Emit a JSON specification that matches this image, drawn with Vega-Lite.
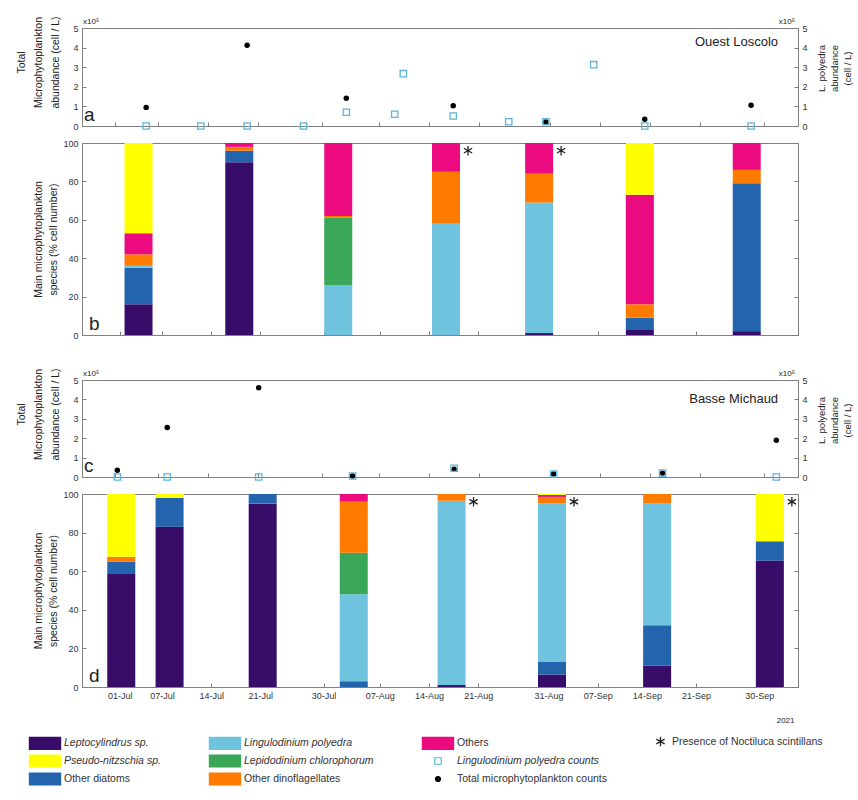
{
  "$schema": "https://vega.github.io/schema/vega-lite/v6.json",
  "padding": {"left": 16, "top": 15, "right": 2, "bottom": 2},
  "config": {
    "font": "Liberation Sans",
    "view": {"stroke": "#808080", "strokeWidth": 1},
    "axis": {"labelFont": "Liberation Sans", "titleFont": "Liberation Sans", "labelFontSize": 9, "titleFontSize": 10.5, "titleFontWeight": "normal", "labelColor": "#333333", "titleColor": "#222222", "domainColor": "#808080", "tickColor": "#808080", "grid": false, "tickSize": -4, "labelPadding": 8},
    "legend": {"labelFont": "Liberation Sans", "labelFontSize": 10.5, "labelColor": "#333333"},
    "text": {"font": "Liberation Sans", "color": "#222222"}
  },
  "datasets": {
    "cats": [
      {"cat": "Leptocylindrus sp.", "rank": 1},
      {"cat": "Other diatoms", "rank": 2},
      {"cat": "Lingulodinium polyedra", "rank": 3},
      {"cat": "Lepidodinium chlorophorum", "rank": 4},
      {"cat": "Other dinoflagellates", "rank": 5},
      {"cat": "Others", "rank": 6},
      {"cat": "Pseudo-nitzschia sp.", "rank": 7}
    ],
    "totA": [
      {"date": "2021-07-05T08:00", "cat": "Total microphytoplankton counts", "value": 0.95},
      {"date": "2021-07-19T12:00", "cat": "Total microphytoplankton counts", "value": 4.12},
      {"date": "2021-08-02T10:00", "cat": "Total microphytoplankton counts", "value": 1.42},
      {"date": "2021-08-17T10:00", "cat": "Total microphytoplankton counts", "value": 1.03},
      {"date": "2021-08-30T10:00", "cat": "Total microphytoplankton counts", "value": 0.2},
      {"date": "2021-09-13T07:00", "cat": "Total microphytoplankton counts", "value": 0.34},
      {"date": "2021-09-28T05:00", "cat": "Total microphytoplankton counts", "value": 1.06}
    ],
    "lpA": [
      {"date": "2021-07-05T08:00", "cat": "Lingulodinium polyedra counts", "value": 0},
      {"date": "2021-07-13T00:00", "cat": "Lingulodinium polyedra counts", "value": 0},
      {"date": "2021-07-19T12:00", "cat": "Lingulodinium polyedra counts", "value": 0},
      {"date": "2021-07-27T10:00", "cat": "Lingulodinium polyedra counts", "value": 0},
      {"date": "2021-08-02T10:00", "cat": "Lingulodinium polyedra counts", "value": 0.7},
      {"date": "2021-08-09T05:00", "cat": "Lingulodinium polyedra counts", "value": 0.6},
      {"date": "2021-08-10T10:00", "cat": "Lingulodinium polyedra counts", "value": 2.67},
      {"date": "2021-08-17T10:00", "cat": "Lingulodinium polyedra counts", "value": 0.51},
      {"date": "2021-08-25T05:00", "cat": "Lingulodinium polyedra counts", "value": 0.22},
      {"date": "2021-08-30T10:00", "cat": "Lingulodinium polyedra counts", "value": 0.22},
      {"date": "2021-09-06T03:00", "cat": "Lingulodinium polyedra counts", "value": 3.13},
      {"date": "2021-09-13T07:00", "cat": "Lingulodinium polyedra counts", "value": 0},
      {"date": "2021-09-28T05:00", "cat": "Lingulodinium polyedra counts", "value": 0}
    ],
    "totC": [
      {"date": "2021-07-01T07:00", "cat": "Total microphytoplankton counts", "value": 0.35},
      {"date": "2021-07-08T07:00", "cat": "Total microphytoplankton counts", "value": 2.55},
      {"date": "2021-07-21T03:00", "cat": "Total microphytoplankton counts", "value": 4.6},
      {"date": "2021-08-03T07:00", "cat": "Total microphytoplankton counts", "value": 0.05},
      {"date": "2021-08-17T13:00", "cat": "Total microphytoplankton counts", "value": 0.4},
      {"date": "2021-08-31T12:00", "cat": "Total microphytoplankton counts", "value": 0.15},
      {"date": "2021-09-15T19:00", "cat": "Total microphytoplankton counts", "value": 0.2},
      {"date": "2021-10-01T18:00", "cat": "Total microphytoplankton counts", "value": 1.9}
    ],
    "lpC": [
      {"date": "2021-07-01T07:00", "cat": "Lingulodinium polyedra counts", "value": 0},
      {"date": "2021-07-08T07:00", "cat": "Lingulodinium polyedra counts", "value": 0},
      {"date": "2021-07-21T03:00", "cat": "Lingulodinium polyedra counts", "value": 0},
      {"date": "2021-08-03T07:00", "cat": "Lingulodinium polyedra counts", "value": 0.05},
      {"date": "2021-08-17T13:00", "cat": "Lingulodinium polyedra counts", "value": 0.45},
      {"date": "2021-08-31T12:00", "cat": "Lingulodinium polyedra counts", "value": 0.15},
      {"date": "2021-09-15T19:00", "cat": "Lingulodinium polyedra counts", "value": 0.2},
      {"date": "2021-10-01T18:00", "cat": "Lingulodinium polyedra counts", "value": 0}
    ],
    "barsB": [
      {"date": "2021-07-03T16:00", "cat": "Leptocylindrus sp.", "pct": 16},
      {"date": "2021-07-03T16:00", "cat": "Other diatoms", "pct": 19},
      {"date": "2021-07-03T16:00", "cat": "Lingulodinium polyedra", "pct": 1},
      {"date": "2021-07-03T16:00", "cat": "Other dinoflagellates", "pct": 6},
      {"date": "2021-07-03T16:00", "cat": "Others", "pct": 11},
      {"date": "2021-07-03T16:00", "cat": "Pseudo-nitzschia sp.", "pct": 47},
      {"date": "2021-07-18T00:00", "cat": "Leptocylindrus sp.", "pct": 90},
      {"date": "2021-07-18T00:00", "cat": "Other diatoms", "pct": 6},
      {"date": "2021-07-18T00:00", "cat": "Other dinoflagellates", "pct": 2},
      {"date": "2021-07-18T00:00", "cat": "Others", "pct": 2},
      {"date": "2021-08-01T02:00", "cat": "Lingulodinium polyedra", "pct": 26},
      {"date": "2021-08-01T02:00", "cat": "Lepidodinium chlorophorum", "pct": 35},
      {"date": "2021-08-01T02:00", "cat": "Other dinoflagellates", "pct": 1},
      {"date": "2021-08-01T02:00", "cat": "Others", "pct": 38},
      {"date": "2021-08-16T10:00", "cat": "Lingulodinium polyedra", "pct": 58},
      {"date": "2021-08-16T10:00", "cat": "Other dinoflagellates", "pct": 27},
      {"date": "2021-08-16T10:00", "cat": "Others", "pct": 15},
      {"date": "2021-08-29T16:00", "cat": "Leptocylindrus sp.", "pct": 1},
      {"date": "2021-08-29T16:00", "cat": "Lingulodinium polyedra", "pct": 68},
      {"date": "2021-08-29T16:00", "cat": "Other dinoflagellates", "pct": 15},
      {"date": "2021-08-29T16:00", "cat": "Others", "pct": 16},
      {"date": "2021-09-13T00:00", "cat": "Leptocylindrus sp.", "pct": 3},
      {"date": "2021-09-13T00:00", "cat": "Other diatoms", "pct": 6},
      {"date": "2021-09-13T00:00", "cat": "Other dinoflagellates", "pct": 7},
      {"date": "2021-09-13T00:00", "cat": "Others", "pct": 57},
      {"date": "2021-09-13T00:00", "cat": "Pseudo-nitzschia sp.", "pct": 27},
      {"date": "2021-09-28T05:00", "cat": "Leptocylindrus sp.", "pct": 2},
      {"date": "2021-09-28T05:00", "cat": "Other diatoms", "pct": 77},
      {"date": "2021-09-28T05:00", "cat": "Other dinoflagellates", "pct": 7},
      {"date": "2021-09-28T05:00", "cat": "Others", "pct": 14}
    ],
    "barsD": [
      {"date": "2021-07-01T05:00", "cat": "Leptocylindrus sp.", "pct": 58.5},
      {"date": "2021-07-01T05:00", "cat": "Other diatoms", "pct": 6.5},
      {"date": "2021-07-01T05:00", "cat": "Other dinoflagellates", "pct": 2.5},
      {"date": "2021-07-01T05:00", "cat": "Pseudo-nitzschia sp.", "pct": 32.5},
      {"date": "2021-07-08T02:00", "cat": "Leptocylindrus sp.", "pct": 83},
      {"date": "2021-07-08T02:00", "cat": "Other diatoms", "pct": 15},
      {"date": "2021-07-08T02:00", "cat": "Pseudo-nitzschia sp.", "pct": 2},
      {"date": "2021-07-21T08:00", "cat": "Leptocylindrus sp.", "pct": 95},
      {"date": "2021-07-21T08:00", "cat": "Other diatoms", "pct": 5},
      {"date": "2021-08-03T07:00", "cat": "Other diatoms", "pct": 3},
      {"date": "2021-08-03T07:00", "cat": "Lingulodinium polyedra", "pct": 45},
      {"date": "2021-08-03T07:00", "cat": "Lepidodinium chlorophorum", "pct": 21.5},
      {"date": "2021-08-03T07:00", "cat": "Other dinoflagellates", "pct": 26.5},
      {"date": "2021-08-03T07:00", "cat": "Others", "pct": 4},
      {"date": "2021-08-17T05:00", "cat": "Leptocylindrus sp.", "pct": 1},
      {"date": "2021-08-17T05:00", "cat": "Lingulodinium polyedra", "pct": 95.5},
      {"date": "2021-08-17T05:00", "cat": "Other dinoflagellates", "pct": 3.5},
      {"date": "2021-08-31T12:00", "cat": "Leptocylindrus sp.", "pct": 6.5},
      {"date": "2021-08-31T12:00", "cat": "Other diatoms", "pct": 6.5},
      {"date": "2021-08-31T12:00", "cat": "Lingulodinium polyedra", "pct": 82},
      {"date": "2021-08-31T12:00", "cat": "Other dinoflagellates", "pct": 3.5},
      {"date": "2021-08-31T12:00", "cat": "Others", "pct": 1},
      {"date": "2021-08-31T12:00", "cat": "Pseudo-nitzschia sp.", "pct": 0.5},
      {"date": "2021-09-15T11:00", "cat": "Leptocylindrus sp.", "pct": 11},
      {"date": "2021-09-15T11:00", "cat": "Other diatoms", "pct": 21},
      {"date": "2021-09-15T11:00", "cat": "Lingulodinium polyedra", "pct": 63},
      {"date": "2021-09-15T11:00", "cat": "Other dinoflagellates", "pct": 5},
      {"date": "2021-10-01T12:00", "cat": "Leptocylindrus sp.", "pct": 65.5},
      {"date": "2021-10-01T12:00", "cat": "Other diatoms", "pct": 10},
      {"date": "2021-10-01T12:00", "cat": "Pseudo-nitzschia sp.", "pct": 24.5}
    ],
    "noctB": [
      {"date": "2021-08-16T10:00", "note": "Presence of Noctiluca scintillans"},
      {"date": "2021-08-29T16:00", "note": "Presence of Noctiluca scintillans"}
    ],
    "noctD": [
      {"date": "2021-08-17T05:00", "note": "Presence of Noctiluca scintillans"},
      {"date": "2021-08-31T12:00", "note": "Presence of Noctiluca scintillans"},
      {"date": "2021-10-01T12:00", "note": "Presence of Noctiluca scintillans"}
    ]
  },
  "bounds": "flush",
  "spacing": 17,
  "vconcat": [
    {
      "width": 716, "height": 98,
      "resolve": {"scale": {"y": "independent"}},
      "layer": [
        {
          "data": {"name": "totA"},
          "mark": {"type": "point", "filled": true, "shape": "circle", "size": 30, "opacity": 1},
          "encoding": {
            "x": {"field": "date", "type": "temporal", "scale": {"domain": [{"year": 2021, "month": 6, "date": 26, "hours": 8}, {"year": 2021, "month": 10, "date": 4, "hours": 19}]},
              "axis": {"title": null, "labels": false, "values": [{"year": 2021, "month": 7, "date": 1}, {"year": 2021, "month": 7, "date": 7}, {"year": 2021, "month": 7, "date": 14}, {"year": 2021, "month": 7, "date": 21}, {"year": 2021, "month": 7, "date": 30}, {"year": 2021, "month": 8, "date": 7}, {"year": 2021, "month": 8, "date": 14}, {"year": 2021, "month": 8, "date": 21}, {"year": 2021, "month": 8, "date": 31}, {"year": 2021, "month": 9, "date": 7}, {"year": 2021, "month": 9, "date": 14}, {"year": 2021, "month": 9, "date": 21}, {"year": 2021, "month": 9, "date": 30}]}},
            "y": {"field": "value", "type": "quantitative", "scale": {"domain": [0, 5]},
              "axis": {"values": [0, 1, 2, 3, 4, 5], "title": ["Total", "Microphytoplankton", "abundance (cell / L)"], "titleLineHeight": 17, "titleY": 34, "titlePadding": 12}},
            "color": {"field": "cat", "type": "nominal"}
          }
        },
        {
          "data": {"name": "lpA"},
          "mark": {"type": "point", "filled": false, "shape": "square", "size": 40, "strokeWidth": 1.3, "opacity": 1},
          "encoding": {
            "x": {"field": "date", "type": "temporal"},
            "y": {"field": "value", "type": "quantitative", "scale": {"domain": [0, 5]},
              "axis": {"orient": "right", "values": [0, 1, 2, 3, 4, 5], "title": ["L. polyedra", "abundance", "(cell / L)"], "titleAngle": 270, "titleBaseline": "top", "titleLineHeight": 13, "titleFontSize": 9.5, "titleY": 40, "titleX": 18}},
            "color": {"field": "cat", "type": "nominal"}
          }
        },
        {
          "data": {"values": [{"t": "Ouest Loscolo"}]},
          "mark": {"type": "text", "align": "right", "baseline": "middle", "fontSize": 13},
          "encoding": {
            "text": {"field": "t"},
            "x": {"datum": {"year": 2021, "month": 10, "date": 2}, "type": "temporal"},
            "y": {"datum": 4.3, "type": "quantitative", "scale": {"domain": [0, 5]}, "axis": null}
          }
        },
        {
          "data": {"values": [{"t": "a"}]},
          "mark": {"type": "text", "align": "left", "baseline": "bottom", "fontSize": 19, "dx": 2, "dy": -1},
          "encoding": {
            "text": {"field": "t"},
            "x": {"datum": {"year": 2021, "month": 6, "date": 26, "hours": 8}, "type": "temporal"},
            "y": {"datum": 0, "type": "quantitative", "scale": {"domain": [0, 5]}, "axis": null}
          }
        },
        {
          "data": {"values": [{"t": "x10⁵"}]},
          "mark": {"type": "text", "align": "left", "baseline": "bottom", "fontSize": 8, "dx": 1, "dy": -2},
          "encoding": {
            "text": {"field": "t"},
            "x": {"datum": {"year": 2021, "month": 6, "date": 26, "hours": 8}, "type": "temporal"},
            "y": {"datum": 5, "type": "quantitative", "scale": {"domain": [0, 5]}, "axis": null}
          }
        },
        {
          "data": {"values": [{"t": "x10⁵"}]},
          "mark": {"type": "text", "align": "right", "baseline": "bottom", "fontSize": 8, "dx": -3, "dy": -2},
          "encoding": {
            "text": {"field": "t"},
            "x": {"datum": {"year": 2021, "month": 10, "date": 4, "hours": 19}, "type": "temporal"},
            "y": {"datum": 5, "type": "quantitative", "scale": {"domain": [0, 5]}, "axis": null}
          }
        }
      ]
    },
    {
      "width": 716, "height": 192,
      "resolve": {"scale": {"y": "independent"}},
      "layer": [
        {
          "data": {"name": "barsB"},
          "transform": [{"lookup": "cat", "from": {"data": {"name": "cats"}, "key": "cat", "fields": ["rank"]}}],
          "mark": {"type": "bar", "size": 28},
          "encoding": {
            "x": {"field": "date", "type": "temporal", "scale": {"domain": [{"year": 2021, "month": 6, "date": 26, "hours": 8}, {"year": 2021, "month": 10, "date": 4, "hours": 19}]},
              "axis": {"title": null, "labels": false, "values": [{"year": 2021, "month": 7, "date": 1}, {"year": 2021, "month": 7, "date": 7}, {"year": 2021, "month": 7, "date": 14}, {"year": 2021, "month": 7, "date": 21}, {"year": 2021, "month": 7, "date": 30}, {"year": 2021, "month": 8, "date": 7}, {"year": 2021, "month": 8, "date": 14}, {"year": 2021, "month": 8, "date": 21}, {"year": 2021, "month": 8, "date": 31}, {"year": 2021, "month": 9, "date": 7}, {"year": 2021, "month": 9, "date": 14}, {"year": 2021, "month": 9, "date": 21}, {"year": 2021, "month": 9, "date": 30}]}},
            "y": {"field": "pct", "type": "quantitative", "stack": "zero", "scale": {"domain": [0, 100]},
              "axis": {"values": [0, 20, 40, 60, 80, 100], "title": ["Main microphytoplankton", "species (% cell number)"], "titleLineHeight": 15}},
            "order": {"field": "rank", "type": "quantitative", "sort": "ascending"},
            "color": {"field": "cat", "type": "nominal",
              "scale": {"domain": ["Leptocylindrus sp.", "Other diatoms", "Lingulodinium polyedra", "Lepidodinium chlorophorum", "Other dinoflagellates", "Others", "Pseudo-nitzschia sp.", "Lingulodinium polyedra counts", "Total microphytoplankton counts"],
                "range": ["#380d6a", "#2364ad", "#6fc3de", "#3aa657", "#ff7b00", "#ec0a80", "#ffff00", "#5bb5d8", "#000000"]},
              "legend": {
                "title": null, "orient": "none", "legendX": -44, "legendY": 708, "columns": 3, "columnPadding": 46, "rowPadding": 0, "padding": 0,
                "symbolSize": 144, "labelOffset": 12,
                "values": ["Leptocylindrus sp.", "Pseudo-nitzschia sp.", "Other diatoms", "Lingulodinium polyedra", "Lepidodinium chlorophorum", "Other dinoflagellates", "Others", "Lingulodinium polyedra counts", "Total microphytoplankton counts"],
                "encode": {
                  "symbols": {"update": {
                    "shape": {"signal": "datum.value === 'Total microphytoplankton counts' ? 'circle' : (datum.value === 'Lingulodinium polyedra counts' ? 'square' : 'M-2.6,-1H2.6V1H-2.6Z')"},
                    "size": {"signal": "datum.value === 'Total microphytoplankton counts' ? 25 : (datum.value === 'Lingulodinium polyedra counts' ? 42 : 144)"},
                    "fill": {"signal": "datum.value === 'Lingulodinium polyedra counts' ? 'transparent' : scale('color', datum.value)"},
                    "fillOpacity": {"signal": "datum.value === 'Lingulodinium polyedra counts' ? 0 : 1"},
                    "stroke": {"signal": "datum.value === 'Lingulodinium polyedra counts' ? scale('color', datum.value) : 'transparent'"},
                    "strokeWidth": {"value": 1.2},
                    "opacity": {"value": 1}
                  }},
                  "labels": {"update": {
                    "fontStyle": {"signal": "indexof(['Leptocylindrus sp.','Pseudo-nitzschia sp.','Lingulodinium polyedra','Lepidodinium chlorophorum','Lingulodinium polyedra counts'], datum.value) >= 0 ? 'italic' : 'normal'"}
                  }}
                }
              }
            }
          }
        },
        {
          "data": {"name": "noctB"},
          "mark": {"type": "point", "filled": false, "size": 90, "strokeWidth": 1.3, "color": "#222222", "xOffset": 22, "opacity": 1},
          "encoding": {
            "x": {"field": "date", "type": "temporal"},
            "y": {"datum": 96, "type": "quantitative", "scale": {"domain": [0, 100]},
              "axis": {"orient": "right", "labels": false, "title": null, "values": [0, 20, 40, 60, 80, 100]}},
            "shape": {"field": "note", "type": "nominal",
              "scale": {"domain": ["Presence of Noctiluca scintillans"], "range": ["M0,-1L0,1M-0.87,-0.5L0.87,0.5M-0.87,0.5L0.87,-0.5"]},
              "legend": {"title": null, "orient": "none", "legendX": 573, "legendY": 708, "padding": 0, "symbolSize": 90, "symbolStrokeColor": "#222222", "symbolFillColor": "transparent", "symbolStrokeWidth": 1.3, "labelFontSize": 10.5, "labelOffset": 6}}
          }
        },
        {
          "data": {"values": [{"t": "b"}]},
          "mark": {"type": "text", "align": "left", "baseline": "bottom", "fontSize": 19, "dx": 2, "dy": -1},
          "encoding": {
            "text": {"field": "t"},
            "x": {"datum": {"year": 2021, "month": 6, "date": 26, "hours": 8}, "type": "temporal"},
            "y": {"datum": 0, "type": "quantitative", "scale": {"domain": [0, 100]}, "axis": null}
          }
        }
      ]
    },
    {
      "width": 716, "height": 11,
      "view": {"stroke": null},
      "data": {"values": [{"t": ""}]},
      "mark": {"type": "text", "opacity": 0},
      "encoding": {"text": {"field": "t"}}
    },
    {
      "width": 716, "height": 97,
      "resolve": {"scale": {"y": "independent"}},
      "layer": [
        {
          "data": {"name": "totC"},
          "mark": {"type": "point", "filled": true, "shape": "circle", "size": 30, "opacity": 1},
          "encoding": {
            "x": {"field": "date", "type": "temporal", "scale": {"domain": [{"year": 2021, "month": 6, "date": 26, "hours": 8}, {"year": 2021, "month": 10, "date": 4, "hours": 19}]},
              "axis": {"title": null, "labels": false, "values": [{"year": 2021, "month": 7, "date": 1}, {"year": 2021, "month": 7, "date": 7}, {"year": 2021, "month": 7, "date": 14}, {"year": 2021, "month": 7, "date": 21}, {"year": 2021, "month": 7, "date": 30}, {"year": 2021, "month": 8, "date": 7}, {"year": 2021, "month": 8, "date": 14}, {"year": 2021, "month": 8, "date": 21}, {"year": 2021, "month": 8, "date": 31}, {"year": 2021, "month": 9, "date": 7}, {"year": 2021, "month": 9, "date": 14}, {"year": 2021, "month": 9, "date": 21}, {"year": 2021, "month": 9, "date": 30}]}},
            "y": {"field": "value", "type": "quantitative", "scale": {"domain": [0, 5]},
              "axis": {"values": [0, 1, 2, 3, 4, 5], "title": ["Total", "Microphytoplankton", "abundance (cell / L)"], "titleLineHeight": 17, "titleY": 34, "titlePadding": 12}},
            "color": {"field": "cat", "type": "nominal"}
          }
        },
        {
          "data": {"name": "lpC"},
          "mark": {"type": "point", "filled": false, "shape": "square", "size": 40, "strokeWidth": 1.3, "opacity": 1},
          "encoding": {
            "x": {"field": "date", "type": "temporal"},
            "y": {"field": "value", "type": "quantitative", "scale": {"domain": [0, 5]},
              "axis": {"orient": "right", "values": [0, 1, 2, 3, 4, 5], "title": ["L. polyedra", "abundance", "(cell / L)"], "titleAngle": 270, "titleBaseline": "top", "titleLineHeight": 13, "titleFontSize": 9.5, "titleY": 40, "titleX": 18}},
            "color": {"field": "cat", "type": "nominal"}
          }
        },
        {
          "data": {"values": [{"t": "Basse Michaud"}]},
          "mark": {"type": "text", "align": "right", "baseline": "middle", "fontSize": 13},
          "encoding": {
            "text": {"field": "t"},
            "x": {"datum": {"year": 2021, "month": 10, "date": 2}, "type": "temporal"},
            "y": {"datum": 4.0, "type": "quantitative", "scale": {"domain": [0, 5]}, "axis": null}
          }
        },
        {
          "data": {"values": [{"t": "c"}]},
          "mark": {"type": "text", "align": "left", "baseline": "bottom", "fontSize": 19, "dx": 2, "dy": -1},
          "encoding": {
            "text": {"field": "t"},
            "x": {"datum": {"year": 2021, "month": 6, "date": 26, "hours": 8}, "type": "temporal"},
            "y": {"datum": 0, "type": "quantitative", "scale": {"domain": [0, 5]}, "axis": null}
          }
        },
        {
          "data": {"values": [{"t": "x10⁵"}]},
          "mark": {"type": "text", "align": "left", "baseline": "bottom", "fontSize": 8, "dx": 1, "dy": -2},
          "encoding": {
            "text": {"field": "t"},
            "x": {"datum": {"year": 2021, "month": 6, "date": 26, "hours": 8}, "type": "temporal"},
            "y": {"datum": 5, "type": "quantitative", "scale": {"domain": [0, 5]}, "axis": null}
          }
        },
        {
          "data": {"values": [{"t": "x10⁵"}]},
          "mark": {"type": "text", "align": "right", "baseline": "bottom", "fontSize": 8, "dx": -3, "dy": -2},
          "encoding": {
            "text": {"field": "t"},
            "x": {"datum": {"year": 2021, "month": 10, "date": 4, "hours": 19}, "type": "temporal"},
            "y": {"datum": 5, "type": "quantitative", "scale": {"domain": [0, 5]}, "axis": null}
          }
        }
      ]
    },
    {
      "width": 716, "height": 193,
      "resolve": {"scale": {"y": "independent"}},
      "layer": [
        {
          "data": {"name": "barsD"},
          "transform": [{"lookup": "cat", "from": {"data": {"name": "cats"}, "key": "cat", "fields": ["rank"]}}],
          "mark": {"type": "bar", "size": 28},
          "encoding": {
            "x": {"field": "date", "type": "temporal", "scale": {"domain": [{"year": 2021, "month": 6, "date": 26, "hours": 8}, {"year": 2021, "month": 10, "date": 4, "hours": 19}]},
              "axis": {"title": "2021", "titleAnchor": "end", "titleFontSize": 8, "titlePadding": 16, "titleX": 712, "labels": true, "format": "%d-%b", "labelFontSize": 9, "labelPadding": 8, "values": [{"year": 2021, "month": 7, "date": 1}, {"year": 2021, "month": 7, "date": 7}, {"year": 2021, "month": 7, "date": 14}, {"year": 2021, "month": 7, "date": 21}, {"year": 2021, "month": 7, "date": 30}, {"year": 2021, "month": 8, "date": 7}, {"year": 2021, "month": 8, "date": 14}, {"year": 2021, "month": 8, "date": 21}, {"year": 2021, "month": 8, "date": 31}, {"year": 2021, "month": 9, "date": 7}, {"year": 2021, "month": 9, "date": 14}, {"year": 2021, "month": 9, "date": 21}, {"year": 2021, "month": 9, "date": 30}]}},
            "y": {"field": "pct", "type": "quantitative", "stack": "zero", "scale": {"domain": [0, 100]},
              "axis": {"values": [0, 20, 40, 60, 80, 100], "title": ["Main microphytoplankton", "species (% cell number)"], "titleLineHeight": 15}},
            "order": {"field": "rank", "type": "quantitative", "sort": "ascending"},
            "color": {"field": "cat", "type": "nominal"}
          }
        },
        {
          "data": {"name": "noctD"},
          "mark": {"type": "point", "filled": false, "size": 90, "strokeWidth": 1.3, "color": "#222222", "xOffset": 22, "opacity": 1},
          "encoding": {
            "x": {"field": "date", "type": "temporal"},
            "y": {"datum": 96, "type": "quantitative", "scale": {"domain": [0, 100]},
              "axis": {"orient": "right", "labels": false, "title": null, "values": [0, 20, 40, 60, 80, 100]}},
            "shape": {"field": "note", "type": "nominal"}
          }
        },
        {
          "data": {"values": [{"t": "d"}]},
          "mark": {"type": "text", "align": "left", "baseline": "bottom", "fontSize": 19, "dx": 2, "dy": -1},
          "encoding": {
            "text": {"field": "t"},
            "x": {"datum": {"year": 2021, "month": 6, "date": 26, "hours": 8}, "type": "temporal"},
            "y": {"datum": 0, "type": "quantitative", "scale": {"domain": [0, 100]}, "axis": null}
          }
        }
      ]
    }
  ]
}
